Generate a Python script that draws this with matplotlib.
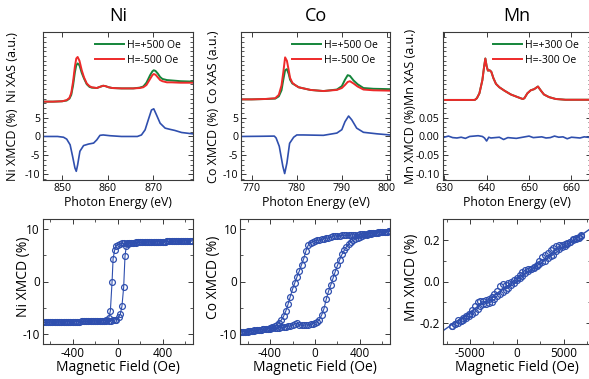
import matplotlib
matplotlib.use("Agg")
import matplotlib.pyplot as plt
from matplotlib.ticker import MultipleLocator, FixedLocator, FormatStrFormatter

plt.rcParams['font.family'] = ['Open Sans', 'DejaVu Sans']
plt.rcParams['axes.unicode_minus'] = False

# ---------------- data ----------------
# Ni L-edge XAS (a.u., offset) and XMCD (%)
ni_xas_e = [845.8, 848, 850, 851, 851.6, 852.0, 852.4, 852.8, 853.1, 853.4, 853.8, 854.3, 854.8, 855.4,
            856.0, 856.5, 857.6, 858.5, 859.0, 859.5, 860.2, 861, 863, 865.6, 867, 867.8, 868.5, 869.3,
            869.8, 870.1, 870.5, 871, 871.5, 872, 873, 874, 876, 878.6]
ni_xas_minus = [9.2, 9.2, 9.3, 9.6, 10.2, 11.5, 14.5, 18.5, 20.6, 21.0, 20.0, 17.5, 15.6, 14.0,
                13.3, 13.0, 12.8, 13.2, 13.4, 13.3, 13.0, 12.8, 12.7, 12.7, 12.8, 13.0, 13.6, 15.2,
                16.2, 16.5, 16.3, 15.6, 14.9, 14.6, 14.3, 14.3, 14.2, 14.2]
ni_xas_plus = [9.2, 9.2, 9.3, 9.5, 10.0, 11.0, 13.5, 17.0, 18.8, 19.3, 18.8, 16.8, 15.3, 13.8,
               13.1, 12.9, 12.8, 13.2, 13.4, 13.3, 13.0, 12.8, 12.7, 12.7, 12.9, 13.2, 14.2, 16.2,
               17.2, 17.5, 17.3, 16.6, 15.7, 15.2, 14.9, 14.8, 14.6, 14.5]
ni_xmcd_e = [845.8, 849, 850.3, 851.0, 851.75, 852.3, 852.8, 853.1, 853.4, 853.9, 854.7, 855.8, 856.9,
             857.6, 858.3, 859.0, 860.5, 863, 866.5, 867.4, 868.2, 868.9, 869.6, 870.1, 870.7, 871.5,
             872.6, 873.6, 874.7, 876.2, 878.6]
ni_xmcd = [0.0, 0.0, -0.2, -0.7, -2.2, -5.3, -8.3, -9.2, -7.5, -3.9, -2.4, -2.0, -1.75,
           -0.9, 0.3, 0.4, 0.2, 0.0, 0.0, 0.4, 1.75, 4.4, 7.0, 7.3, 5.7, 3.5,
           2.2, 1.9, 1.6, 1.05, 0.7]

# Co L-edge
co_xas_e = [767.6, 770, 773, 775.2, 776.0, 776.6, 777.0, 777.4, 777.8, 778.2, 778.5, 779, 779.6,
            780.4, 781.5, 783, 785.9, 788.9, 790, 790.7, 791.3, 791.8, 792.6, 793.5, 794.8, 797, 800.7]
co_xas_minus = [9.8, 9.8, 9.9, 10.1, 11.0, 13.5, 17.0, 20.9, 20.0, 17.5, 15.5, 14.2, 13.6,
                13.0, 12.7, 12.3, 12.0, 12.3, 12.8, 13.6, 14.4, 14.6, 14.0, 13.2, 12.4, 12.2, 12.1]
co_xas_plus = [9.8, 9.8, 9.9, 10.0, 10.6, 12.2, 15.0, 17.5, 17.8, 16.5, 15.0, 14.0, 13.6,
               13.0, 12.7, 12.3, 12.0, 12.4, 13.3, 15.0, 16.2, 16.0, 14.8, 13.8, 12.8, 12.6, 12.5]
co_xmcd_e = [767.6, 772, 775, 775.4, 776.1, 776.9, 777.3, 777.8, 778.4, 779.3, 780, 781.5, 785.9,
             788.9, 790, 790.7, 791.5, 792.2, 793.3, 794.8, 797.8, 800.7]
co_xmcd = [0.0, 0.05, 0.1, -0.4, -2.6, -7.9, -9.8, -7.0, -1.8, -0.2, 0.4, 0.4, 0.3,
           0.9, 1.8, 3.9, 5.4, 4.4, 2.2, 1.1, 0.7, 0.4]

# Mn L-edge (XAS identical for both fields)
mn_xas_e = [629.6, 633, 637.2, 637.7, 638.3, 639.0, 639.4, 639.7, 640.0, 640.3, 640.7, 641.1, 641.6,
            642.2, 643.0, 644.2, 645.7, 647.3, 648.5, 648.9, 649.6, 650.4, 651.2, 652.1, 652.8, 653.5,
            654.7, 656.3, 658.6, 664.6]
mn_xas_minus = [0.0965, 0.0965, 0.0965, 0.101, 0.114, 0.149, 0.184, 0.206, 0.186, 0.174, 0.175, 0.171,
                0.154, 0.139, 0.130, 0.121, 0.111, 0.104, 0.099, 0.101, 0.114, 0.122, 0.125, 0.132,
                0.121, 0.111, 0.104, 0.099, 0.097, 0.097]
mn_xas_plus = list(mn_xas_minus)
mn_xmcd_e = [630, 631, 632, 633, 634, 635, 636, 637, 638, 639, 639.5, 640, 640.5, 641, 642, 643, 644,
             645, 646, 647, 648, 649, 650, 651, 652, 653, 654, 655, 656, 657, 658, 659, 660, 661, 662,
             663, 664.6]
mn_xmcd = [-0.002, 0.001, -0.003, -0.004, -0.002, -0.005, 0.0, 0.001, 0.002, 0.0, -0.004, -0.012,
           -0.002, -0.004, -0.003, -0.002, -0.008, -0.003, -0.004, -0.005, -0.003, -0.001, 0.001,
           -0.003, -0.002, -0.001, -0.004, -0.003, 0.001, -0.002, -0.001, -0.006, -0.002, -0.003,
           -0.004, -0.001, -0.003]

# Ni hysteresis (field in Oe, XMCD in %)
ni_h_down = [660, 640, 620, 600, 580, 560, 540, 520, 500, 480, 460, 440, 420, 400, 380, 360, 340, 320,
             300, 280, 260, 240, 220, 200, 180, 160, 140, 120, 100, 80, 60, 40, 20, 0, -12, -27, -41,
             -50, -65, -80, -100, -120, -140, -160, -180, -200, -220, -240, -260, -280, -300, -320,
             -340, -360, -380, -400, -420, -440, -460, -480, -500, -520, -540, -560, -580, -600, -620,
             -640, -660]
ni_m_down = [7.8, 7.8, 7.8, 7.8, 7.75, 7.75, 7.75, 7.75, 7.7, 7.7, 7.7, 7.7, 7.65, 7.65, 7.65, 7.65,
             7.6, 7.6, 7.6, 7.6, 7.55, 7.55, 7.55, 7.5, 7.5, 7.5, 7.45, 7.45, 7.4, 7.4, 7.35, 7.3, 7.2,
             7.1, 6.9, 6.0, 4.4, 0.0, -5.6, -7.05, -7.4, -7.5, -7.55, -7.55, -7.6, -7.6, -7.6, -7.6,
             -7.65, -7.65, -7.65, -7.65, -7.7, -7.7, -7.7, -7.7, -7.7, -7.75, -7.75, -7.75, -7.75,
             -7.8, -7.8, -7.8, -7.8, -7.8, -7.85, -7.85, -7.85]
ni_h_up = [-660, -640, -620, -600, -580, -560, -540, -520, -500, -480, -460, -440, -420, -400, -380,
           -360, -340, -320, -300, -280, -260, -240, -220, -200, -180, -160, -140, -120, -100, -80,
           -60, -40, -20, -12, 9, 24, 38, 53, 65, 77, 90, 100, 120, 140, 160, 180, 200, 220, 240, 260,
           280, 300, 320, 340, 360, 380, 400, 420, 440, 460, 480, 500, 520, 540, 560, 580, 600, 620,
           640, 660]
ni_m_up = [-7.85, -7.85, -7.85, -7.8, -7.8, -7.8, -7.8, -7.8, -7.75, -7.75, -7.75, -7.75, -7.7, -7.7,
           -7.7, -7.7, -7.7, -7.65, -7.65, -7.65, -7.65, -7.6, -7.6, -7.6, -7.6, -7.6, -7.55, -7.55,
           -7.55, -7.5, -7.5, -7.45, -7.35, -7.3, -6.9, -6.2, -4.7, -1.1, 4.9, 6.9, 7.2, 7.3, 7.4,
           7.45, 7.45, 7.5, 7.5, 7.5, 7.55, 7.55, 7.55, 7.6, 7.6, 7.6, 7.6, 7.65, 7.65, 7.65, 7.7,
           7.7, 7.7, 7.7, 7.75, 7.75, 7.75, 7.75, 7.8, 7.8, 7.8, 7.8]

# Co hysteresis
co_h_down = [660, 640, 620, 600, 580, 560, 540, 520, 500, 480, 460, 440, 420, 400, 380, 360, 340, 320,
             300, 280, 260, 240, 220, 200, 180, 160, 140, 120, 100, 80, 60, 40, 20, 0, -20, -40, -60,
             -80, -100, -120, -140, -160, -180, -200, -220, -240, -260, -280, -300, -320, -340, -360,
             -380, -400, -420, -440, -460, -480, -500, -520, -540, -560, -580, -600, -620, -640, -660]
co_m_down = [9.65, 9.6, 9.6, 9.55, 9.5, 9.45, 9.4, 9.35, 9.3, 9.25, 9.2, 9.15, 9.1, 9.05, 9.0, 9.0,
             8.95, 8.95, 8.9, 8.9, 8.85, 8.85, 8.8, 8.8, 8.75, 8.7, 8.5, 8.4, 8.3, 8.2, 8.1, 8.0, 7.9,
             7.8, 7.65, 7.4, 7.0, 5.9, 4.4, 3.2, 2.0, 0.9, -0.3, -1.5, -2.9, -4.4, -5.7, -6.7, -7.4,
             -7.9, -8.3, -8.6, -8.8, -8.95, -9.05, -9.15, -9.2, -9.3, -9.35, -9.4, -9.45, -9.5, -9.55,
             -9.6, -9.6, -9.65, -9.7]
co_h_up = [-660, -640, -620, -600, -580, -560, -540, -520, -500, -480, -460, -440, -420, -400, -380,
           -360, -340, -320, -300, -280, -260, -240, -220, -200, -180, -160, -140, -120, -100, -80,
           -60, -40, -20, 0, 20, 40, 60, 80, 100, 120, 140, 160, 180, 200, 220, 240, 260, 280, 300,
           320, 340, 360, 380, 400, 420, 440, 460, 480, 500, 520, 540, 560, 580, 600, 620, 640, 660]
co_m_up = [-9.7, -9.65, -9.6, -9.55, -9.5, -9.45, -9.4, -9.35, -9.3, -9.25, -9.2, -9.15, -9.1, -9.05,
           -9.0, -8.95, -8.9, -8.85, -8.8, -8.75, -8.7, -8.6, -8.5, -8.3, -8.1, -8.05, -8.3, -8.4,
           -8.4, -8.35, -8.3, -8.2, -8.1, -7.9, -7.7, -7.3, -6.4, -5.2, -3.4, -1.9, -0.7, 0.6, 1.9,
           3.1, 4.2, 5.2, 6.0, 6.7, 7.2, 7.6, 7.9, 8.2, 8.4, 8.6, 8.75, 8.9, 9.0, 9.1, 9.2, 9.3,
           9.35, 9.4, 9.45, 9.5, 9.55, 9.6, 9.65]

# Mn field dependence (two sweeps) and linear fit
mn_h_up = [-6900, -6600, -6300, -6000, -5700, -5400, -5100, -4800, -4500, -4200, -3900, -3600, -3300,
           -3000, -2700, -2400, -2100, -1800, -1500, -1200, -900, -600, -300, 0, 300, 600, 900, 1200,
           1500, 1800, 2100, 2400, 2700, 3000, 3300, 3600, 3900, 4200, 4500, 4800, 5100, 5400, 5700,
           6000, 6300, 6600, 6900]
mn_m_up = [-0.215, -0.205, -0.185, -0.19, -0.175, -0.165, -0.155, -0.14, -0.12, -0.10, -0.095, -0.095,
           -0.09, -0.085, -0.075, -0.06, -0.045, -0.02, -0.01, -0.015, -0.005, 0.0, 0.005, 0.015, 0.03,
           0.045, 0.055, 0.058, 0.062, 0.07, 0.08, 0.10, 0.12, 0.13, 0.14, 0.15, 0.16, 0.17, 0.175,
           0.175, 0.18, 0.185, 0.19, 0.205, 0.21, 0.215, 0.225]
mn_h_down = [6900, 6600, 6300, 6000, 5700, 5400, 5100, 4800, 4500, 4200, 3900, 3600, 3300, 3000, 2700,
             2400, 2100, 1800, 1500, 1200, 900, 600, 300, 0, -300, -600, -900, -1200, -1500, -1800,
             -2100, -2400, -2700, -3000, -3300, -3600, -3900, -4200, -4500, -4800, -5100, -5400, -5700,
             -6000, -6300, -6600, -6900]
mn_m_down = [0.22, 0.21, 0.205, 0.20, 0.19, 0.18, 0.17, 0.165, 0.155, 0.145, 0.13, 0.125, 0.115, 0.10,
             0.095, 0.085, 0.075, 0.065, 0.06, 0.05, 0.04, 0.025, 0.015, 0.005, -0.005, -0.015, -0.03,
             -0.04, -0.05, -0.06, -0.07, -0.085, -0.10, -0.105, -0.11, -0.11, -0.12, -0.135, -0.145,
             -0.155, -0.165, -0.175, -0.185, -0.19, -0.20, -0.205, -0.215]
mn_fit_slope = 3.13e-5   # % per Oe
mn_fit_intercept = 0.009

elements = ["Ni", "Co", "Mn"]
legend_fields = [("H=+500 Oe", "H=-500 Oe"), ("H=+500 Oe", "H=-500 Oe"), ("H=+300 Oe", "H=-300 Oe")]

# ---------------- styling ----------------
W, H = 589, 379
GREEN = "#14853a"
RED = "#ee2a2a"
BLUE = "#2f4fae"
SPINE = "#3a3a3a"


def box(l, t, r, b):
    return [l / W, 1 - b / H, (r - l) / W, (b - t) / H]


def style(ax):
    for s in ax.spines.values():
        s.set_color(SPINE)
        s.set_linewidth(0.8)
    ax.tick_params(which='both', direction='in', top=True, right=True, color=SPINE)
    ax.tick_params(which='major', length=3.5, width=0.7)
    ax.tick_params(which='minor', length=2, width=0.6)


fig = plt.figure(figsize=(W / 100, H / 100), dpi=100)

top_boxes = [box(43, 32, 192.5, 180), box(241, 32, 390, 180), box(442.5, 32, 591, 180)]
bot_boxes = [box(42.7, 219, 192.7, 344), box(240, 219, 390, 344), box(442.7, 219, 591, 344)]

xas_sets = [
    (ni_xas_e, ni_xas_plus, ni_xas_minus, ni_xmcd_e, ni_xmcd, (845.8, 878.6), (-11.5, 27.6),
     [850, 860, 870], [-10, -5, 0, 5], '%g', 1.25),
    (co_xas_e, co_xas_plus, co_xas_minus, co_xmcd_e, co_xmcd, (767.6, 800.7), (-11.5, 27.6),
     [770, 780, 790, 800], [-10, -5, 0, 5], '%g', 1.25),
    (mn_xas_e, mn_xas_plus, mn_xas_minus, mn_xmcd_e, mn_xmcd, (629.6, 664.6), (-0.115, 0.276),
     [630, 640, 650, 660], [-0.10, -0.05, 0.0, 0.05], '%.2f', 0.0125),
]
label_x = [13, 213, 410]

for i, (e, xp, xm, ee, xmcd, xl, yl, xt, yt, fmt, minor) in enumerate(xas_sets):
    ax = fig.add_axes(top_boxes[i])
    style(ax)
    ax.plot(e, xp, color=GREEN, lw=1.4, label=legend_fields[i][0])
    ax.plot(e, xm, color=RED, lw=1.4, label=legend_fields[i][1])
    ax.plot(ee, xmcd, color=BLUE, lw=1.2)
    ax.set_xlim(*xl)
    ax.set_ylim(*yl)
    ax.xaxis.set_major_locator(FixedLocator(xt))
    ax.yaxis.set_major_locator(FixedLocator(yt))
    ax.yaxis.set_major_formatter(FormatStrFormatter(fmt))
    ax.yaxis.set_minor_locator(MultipleLocator(minor))
    ax.tick_params(labelsize=7.6, pad=2)
    ax.set_xlabel("Photon Energy (eV)", fontsize=8.8, labelpad=1.5)
    ax.set_title(elements[i], fontsize=13, pad=8)
    ax.legend(loc='upper right', bbox_to_anchor=(0.97, 0.995), frameon=False, fontsize=7.5,
              handlelength=2.8, handletextpad=0.3, labelspacing=0.35, borderpad=0.2)
    fig.text(label_x[i] / W, 1 - 67 / H, f"{elements[i]} XAS (a.u.)", rotation=90,
             ha='center', va='center', fontsize=9)
    fig.text(label_x[i] / W, 1 - 145 / H, f"{elements[i]} XMCD (%)", rotation=90,
             ha='center', va='center', fontsize=9)

hyst_sets = [
    (ni_h_down, ni_m_down, ni_h_up, ni_m_up, (-667, 667), (-12, 12), [-400, 0, 400], 200,
     [-10, 0, 10], 5, '%g'),
    (co_h_down, co_m_down, co_h_up, co_m_up, (-667, 667), (-12, 12), [-400, 0, 400], 200,
     [-10, 0, 10], 5, '%g'),
    (mn_h_down, mn_m_down, mn_h_up, mn_m_up, (-7920, 7920), (-0.302, 0.302), [-5000, 0, 5000], 2500,
     [-0.2, 0.0, 0.2], 0.1, '%.1f'),
]
blabel_x = [24, 214, 411]

for i, (hd, md, hu, mu, xl, yl, xt, xmin, yt, ymin, fmt) in enumerate(hyst_sets):
    ax = fig.add_axes(bot_boxes[i])
    style(ax)
    if i < 2:
        ax.plot(hd, md, color=BLUE, lw=0.8, marker='o', ms=4.2, mfc='none', mec=BLUE, mew=0.9)
        ax.plot(hu, mu, color=BLUE, lw=0.8, marker='o', ms=4.2, mfc='none', mec=BLUE, mew=0.9)
    else:
        ax.plot(hd, md, ls='none', marker='o', ms=4.2, mfc='none', mec=BLUE, mew=0.9)
        ax.plot(hu, mu, ls='none', marker='o', ms=4.2, mfc='none', mec=BLUE, mew=0.9)
        ax.axline((0, mn_fit_intercept), slope=mn_fit_slope, color=BLUE, lw=1.0)
    ax.set_xlim(*xl)
    ax.set_ylim(*yl)
    ax.xaxis.set_major_locator(FixedLocator(xt))
    ax.xaxis.set_minor_locator(MultipleLocator(xmin))
    ax.yaxis.set_major_locator(FixedLocator(yt))
    ax.yaxis.set_minor_locator(MultipleLocator(ymin))
    ax.yaxis.set_major_formatter(FormatStrFormatter(fmt))
    ax.tick_params(labelsize=8.5, pad=2)
    ax.set_xlabel("Magnetic Field (Oe)", fontsize=10, labelpad=0)
    fig.text(blabel_x[i] / W, 1 - 277 / H, f"{elements[i]} XMCD (%)", rotation=90,
             ha='center', va='center', fontsize=10)

fig.savefig("out.png", dpi=100)
